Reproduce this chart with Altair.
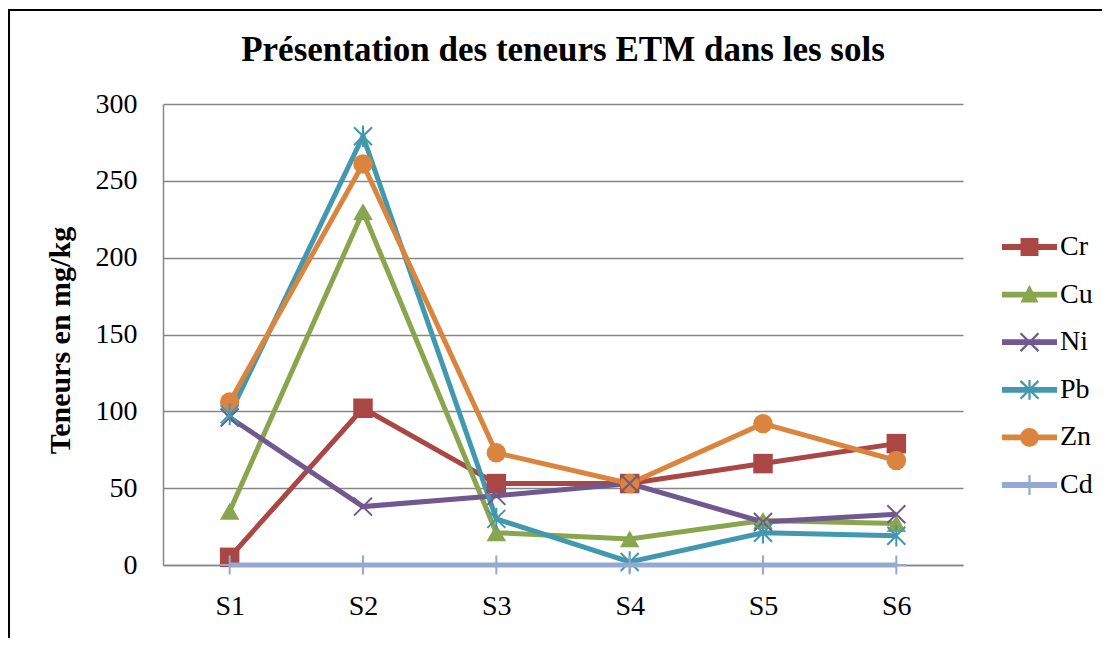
import altair as alt
import pandas as pd

sites = ["S1", "S2", "S3", "S4", "S5", "S6"]
series_names = ["Cr", "Cu", "Ni", "Pb", "Zn", "Cd"]
cr = [5, 102, 53, 53, 66, 79]
cu = [35, 230, 21, 17, 29, 27]
ni = [96, 38, 45, 53, 28, 33]
pb = [98, 279, 30, 2, 21, 19]
zn = [106, 261, 73, 53, 92, 68]
cd = [0, 0, 0, 0, 0, 0]
colors = ["#AA4643", "#89A54E", "#71588F", "#4198AF", "#DB843D", "#93A9CF"]

values = {"Cr": cr, "Cu": cu, "Ni": ni, "Pb": pb, "Zn": zn, "Cd": cd}
rows = []
for s in series_names:
    for i, site in enumerate(sites):
        rows.append({"site": site, "series": s, "value": values[s][i]})
df = pd.DataFrame(rows)

FONT = "Liberation Serif"

# plot markers
mk_shapes = [
    "square",
    "triangle-up",
    "M-1,-1L1,1M-1,1L1,-1",
    "M-1,-1L1,1M-1,1L1,-1M0,-1.2L0,1.2",
    "circle",
    "M0,-1L0,1M-1,0L1,0",
]

# legend symbols: line + marker as filled polygons (unit r = 16 px)
L = "M-1.72,-0.18L1.72,-0.18L1.72,0.18L-1.72,0.18Z"
a, d = 0.56, 0.05
X1 = f"M{-a+d},{-a-d}L{a+d},{a-d}L{a-d},{a+d}L{-a-d},{-a+d}Z"
X2 = f"M{-a+d},{a+d}L{-a-d},{a-d}L{a-d},{-a-d}L{a+d},{-a+d}Z"
V = "M-0.07,-0.62L0.07,-0.62L0.07,0.62L-0.07,0.62Z"
leg_shapes = [
    L + "M-0.56,-0.56L0.56,-0.56L0.56,0.56L-0.56,0.56Z",
    L + "M0,-0.62L0.56,0.5L-0.56,0.5Z",
    L + X1 + X2,
    L + X1 + X2 + V,
    L + "M-0.58,0A0.58,0.58 0 1,1 0.58,0A0.58,0.58 0 1,1 -0.58,0Z",
    L + V,
]

xenc = alt.X("site:N", sort=sites, scale=alt.Scale(type="point", padding=0.5),
             axis=alt.Axis(title=None, labelFont=FONT, labelFontSize=28, labelColor="black",
                           ticks=False, domainColor="#868686", domainWidth=1.5,
                           labelPadding=27, labelAngle=0, grid=False))
yenc = alt.Y("value:Q", scale=alt.Scale(domain=[0, 300], nice=False),
             axis=alt.Axis(title="Teneurs en mg/kg", values=[0, 50, 100, 150, 200, 250, 300],
                           labelFont=FONT, labelFontSize=28, labelColor="black",
                           ticks=False, labelPadding=26, domainColor="#868686", domainWidth=1.5,
                           gridColor="#868686", gridWidth=1.5,
                           titleFont=FONT, titleFontSize=30, titleFontWeight="bold",
                           titleColor="black", titleX=-88, titleY=236))
cscale = alt.Scale(domain=series_names, range=colors)
mk_scale = alt.Scale(domain=series_names, range=mk_shapes)

base = alt.Chart(df)

lines = base.transform_filter(alt.datum.series != "Cd").mark_line(strokeWidth=5).encode(
    x=xenc, y=yenc,
    color=alt.Color("series:N", scale=cscale, legend=None),
    detail="series:N",
)

filled_m = base.transform_filter(alt.FieldOneOfPredicate(field="series", oneOf=["Cr", "Cu", "Zn"])).mark_point(
    filled=True, size=380, opacity=1).encode(
    x=xenc, y=yenc,
    color=alt.Color("series:N", scale=cscale, legend=None),
    shape=alt.Shape("series:N", scale=mk_scale, legend=None),
)

stroke_m = base.transform_filter(alt.FieldOneOfPredicate(field="series", oneOf=["Ni", "Pb"])).mark_point(
    filled=False, size=324, strokeWidth=2, opacity=1).encode(
    x=xenc, y=yenc,
    color=alt.Color("series:N", scale=cscale, legend=None),
    shape=alt.Shape("series:N", scale=mk_scale, legend=None),
)

cd_line = base.transform_filter(alt.datum.series == "Cd").mark_line(strokeWidth=5).encode(
    x=xenc, y=yenc,
    color=alt.Color("series:N", scale=cscale, legend=None),
)
cd_m = base.transform_filter(alt.datum.series == "Cd").mark_point(
    filled=False, size=361, strokeWidth=2, opacity=1).encode(
    x=xenc, y=yenc,
    color=alt.Color("series:N", scale=cscale, legend=None),
    shape=alt.Shape("series:N", scale=mk_scale, legend=None),
)

leg = alt.Legend(title=None, orient="none", legendX=850.5, legendY=127,
                 labelFont=FONT, labelFontSize=28, labelColor="black",
                 symbolSize=1024, symbolStrokeWidth=0, symbolOpacity=1,
                 labelOffset=14.5, rowPadding=17.6, padding=0)
legend_layer = base.mark_point(filled=True, opacity=0).encode(
    x=xenc, y=yenc,
    color=alt.Color("series:N", scale=cscale, legend=leg),
    shape=alt.Shape("series:N", scale=alt.Scale(domain=series_names, range=leg_shapes), legend=leg),
)

frame_df = pd.DataFrame({"k": [0]})
left_border = alt.Chart(frame_df).mark_rule(color="black", strokeWidth=2).encode(
    x=alt.value(-154), y=alt.value(-94), y2=alt.value(700))
top_border = alt.Chart(frame_df).mark_rule(color="black", strokeWidth=2).encode(
    x=alt.value(-156), x2=alt.value(1000), y=alt.value(-94))

chart = alt.layer(lines, filled_m, stroke_m, cd_line, cd_m, legend_layer, left_border, top_border).resolve_scale(
    shape="independent", color="independent"
).properties(
    width=800, height=461,
    title=alt.TitleParams("Présentation des teneurs ETM dans les sols", font=FONT, fontSize=35,
                          fontWeight="bold", color="black", frame="group", anchor="middle",
                          baseline="alphabetic", offset=-87),
    autosize=alt.AutoSizeParams(type="none"),
    padding={"left": 155, "top": 96, "right": 139, "bottom": 73},
).configure(font=FONT).configure_view(stroke=None).configure_axis(
    gridOpacity=1, labelFont=FONT, titleFont=FONT
).configure_legend(labelFont=FONT).configure_title(font=FONT)

chart.save("out.html", embed_options={"renderer": "svg", "actions": False})
